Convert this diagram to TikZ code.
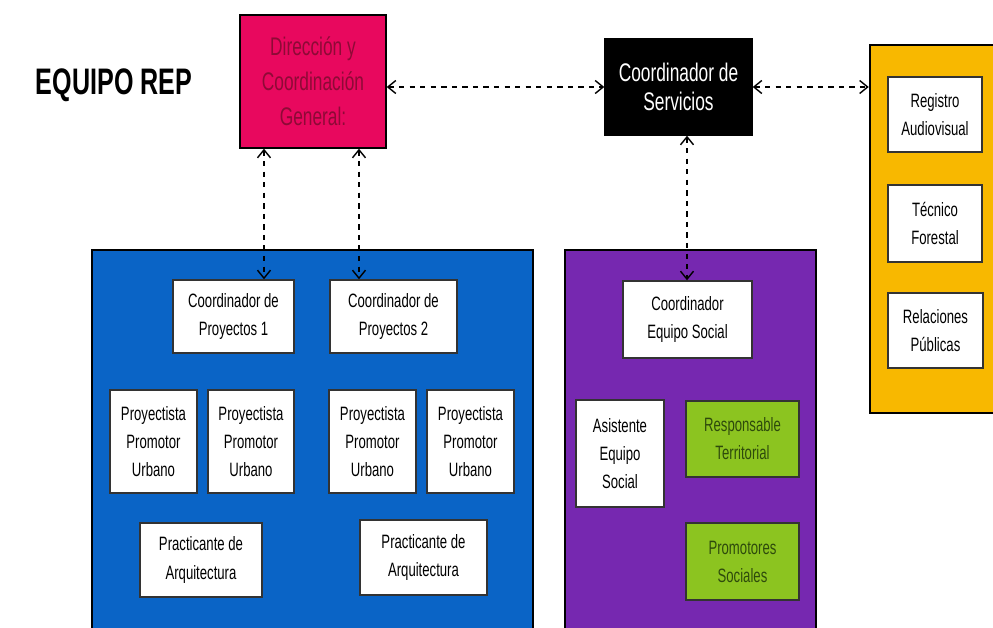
\documentclass[tikz,border=0pt]{standalone}
\usepackage{fontspec}
\setmainfont{Liberation Sans}[FakeStretch=0.68]
\usetikzlibrary{arrows.meta}
\definecolor{rosa}{HTML}{E8085E}
\definecolor{rosaosc}{HTML}{8E0A36}
\definecolor{azul}{HTML}{0A64C6}
\definecolor{morado}{HTML}{7628B0}
\definecolor{amarillo}{HTML}{F8B800}
\definecolor{verde}{HTML}{8CC420}
\definecolor{verdeosc}{HTML}{2E4A0C}
\tikzset{
  area/.style={draw=black, line width=1.4pt, minimum width=#1},
  cargo/.style={draw=black!80, line width=0.8pt, fill=white, align=center,
    inner sep=1pt, font=\fontsize{11}{16}\selectfont},
  enlace/.style={dashed, line width=0.8pt, {Straight Barb[length=1.6mm,width=2.6mm]}-{Straight Barb[length=1.6mm,width=2.6mm]}}
}
\begin{document}
\begin{tikzpicture}
  \useasboundingbox (0,0) rectangle (19.86,-12.56);
  % title
  \node (titulo) at (2.28,-1.70) {\fontsize{21}{24}\selectfont\bfseries EQUIPO REP};
  % areas
  \node[area=8.82cm, fill=azul, minimum height=8.2cm] (proyectos) at (6.25,-9.10) {};
  \node[area=5.02cm, fill=morado, minimum height=8.2cm] (social) at (13.81,-9.10) {};
  \node[area=2.80cm, fill=amarillo, minimum height=7.36cm] (apoyo) at (18.80,-4.58) {};
  % top level
  \node[cargo, draw=black, fill=rosa, text=rosaosc, minimum width=2.92cm, minimum height=2.66cm,
    font=\fontsize{14.5}{20}\selectfont] (direccion) at (6.26,-1.63) {Dirección y\\Coordinación\\General:};
  \node[cargo, draw=black, fill=black, text=white, minimum width=2.94cm, minimum height=1.92cm,
    font=\fontsize{14.5}{16.5}\selectfont] (servicios) at (13.57,-1.74) {Coordinador de\\Servicios};
  % apoyo
  \node[cargo, minimum width=1.88cm, minimum height=1.50cm] (registro) at (18.70,-2.29) {Registro\\Audiovisual};
  \node[cargo, minimum width=1.88cm, minimum height=1.54cm] (tecnico) at (18.70,-4.47) {Técnico\\Forestal};
  \node[cargo, minimum width=1.90cm, minimum height=1.50cm] (relaciones) at (18.71,-6.61) {Relaciones\\Públicas};
  % proyectos
  \node[cargo, minimum width=2.42cm, minimum height=1.46cm] (coord1) at (4.67,-6.33) {Coordinador de\\Proyectos 1};
  \node[cargo, minimum width=2.54cm, minimum height=1.46cm] (coord2) at (7.87,-6.33) {Coordinador de\\Proyectos 2};
  \node[cargo, minimum width=1.74cm, minimum height=2.06cm] (proy1) at (3.07,-8.83) {Proyectista\\Promotor\\Urbano};
  \node[cargo, minimum width=1.72cm, minimum height=2.06cm] (proy2) at (5.02,-8.83) {Proyectista\\Promotor\\Urbano};
  \node[cargo, minimum width=1.74cm, minimum height=2.06cm] (proy3) at (7.45,-8.83) {Proyectista\\Promotor\\Urbano};
  \node[cargo, minimum width=1.74cm, minimum height=2.06cm] (proy4) at (9.41,-8.83) {Proyectista\\Promotor\\Urbano};
  \node[cargo, minimum width=2.44cm, minimum height=1.48cm] (pract1) at (4.02,-11.20) {Practicante de\\Arquitectura};
  \node[cargo, minimum width=2.54cm, minimum height=1.50cm] (pract2) at (8.47,-11.15) {Practicante de\\Arquitectura};
  % social
  \node[cargo, minimum width=2.58cm, minimum height=1.54cm] (coordsoc) at (13.75,-6.39) {Coordinador\\Equipo Social};
  \node[cargo, minimum width=1.76cm, minimum height=2.14cm] (asistente) at (12.40,-9.07) {Asistente\\Equipo\\Social};
  \node[cargo, fill=verde, text=verdeosc, minimum width=2.26cm, minimum height=1.52cm] (responsable) at (14.85,-8.78) {Responsable\\Territorial};
  \node[cargo, fill=verde, text=verdeosc, minimum width=2.26cm, minimum height=1.54cm] (promotores) at (14.85,-11.23) {Promotores\\Sociales};
  % links
  \coordinate (b1) at (5.28,0);
  \coordinate (b2) at (7.18,0);
  \coordinate (b3) at (13.74,0);
  \draw[enlace] (direccion.east |- servicios.west) -- (servicios.west);
  \draw[enlace] (servicios.east) -- (servicios.east -| apoyo.west);
  \draw[enlace] (direccion.south -| b1) -- (coord1.north -| b1);
  \draw[enlace] (direccion.south -| b2) -- (coord2.north -| b2);
  \draw[enlace] (servicios.south -| b3) -- (coordsoc.north -| b3);
\end{tikzpicture}
\end{document}
